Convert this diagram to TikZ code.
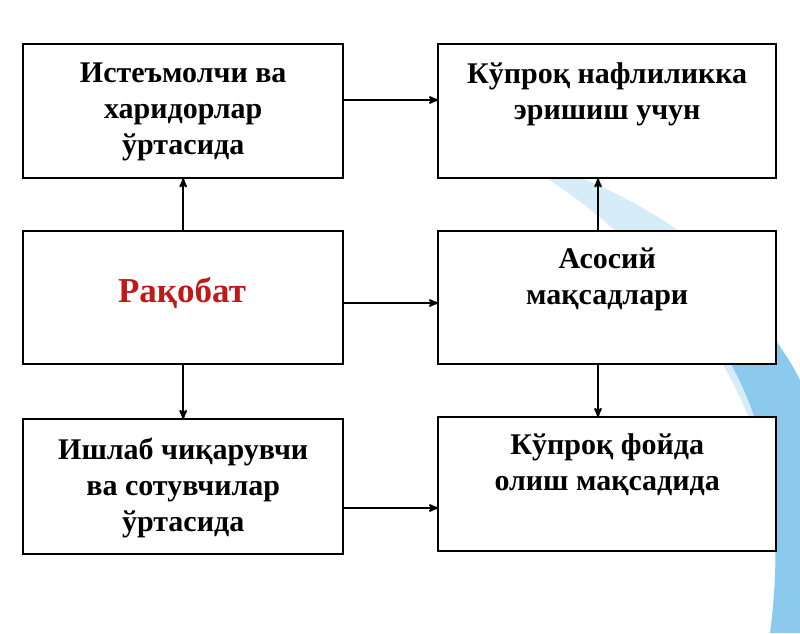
\documentclass[tikz,border=0pt]{standalone}
\usepackage{fontspec}
\setmainfont{Liberation Serif}
\usepackage{xcolor}
\definecolor{darkred}{rgb}{0.75,0.1,0.1}
\definecolor{swoosh}{rgb}{0.35,0.7,0.9}
\usetikzlibrary{positioning, arrows}
\begin{document}
\begin{tikzpicture}
[x=1pt, y=-1pt,
 >=stealth',
 box/.style={draw, line width=2.4pt, fill=white, minimum height=134pt, anchor=north west},
 txt/.style={anchor=north, align=center, font=\fontsize{30}{36}\selectfont\bfseries},
 link/.style={->, line width=2pt, shorten >=-1pt},
]
\useasboundingbox (0,0) rectangle (800,633);

% background
\fill[swoosh!25] (500,150) .. controls (680,200) and (790,300) .. (800,420) -- (800,600) .. controls (770,420) and (700,260) .. (500,150);
\fill[swoosh!70] (600,230) .. controls (760,330) and (790,480) .. (770,633) -- (800,633) -- (800,380) .. controls (760,300) and (680,250) .. (600,230);

\node[box, minimum width=320pt] (buyers) at (22,43) {};
\node[box, minimum width=338pt] (benefit) at (437,43) {};
\node[box, minimum width=320pt, minimum height=133pt] (comp) at (22,230) {};
\node[box, minimum width=338pt, minimum height=133pt] (goals) at (437,230) {};
\node[box, minimum width=320pt, minimum height=135pt] (sellers) at (22,418) {};
\node[box, minimum width=338pt] (profit) at (437,416) {};

\node[txt] (buyerst) at ([yshift=-16pt]buyers.north) {Истеъмолчи ва\\харидорлар\\ўртасида};
\node[txt] (benefitt) at ([yshift=-16pt]benefit.north) {Кўпроқ нафлиликка\\эришиш учун};
\node[txt, anchor=center, text=darkred, font=\fontsize{35}{40}\selectfont\bfseries] (compt) at (182,293) {Рақобат};
\node[txt] (goalst) at ([yshift=-14pt]goals.north) {Асосий\\мақсадлари};
\node[txt] (sellerst) at ([yshift=-16pt]sellers.north) {Ишлаб чиқарувчи\\ва сотувчилар\\ўртасида};
\node[txt] (profitt) at ([yshift=-14pt]profit.north) {Кўпроқ фойда\\олиш мақсадида};

\draw[link] (buyers.east |- 0,100) -- (benefit.west |- 0,100);
\draw[link] (comp.north) -- (buyers.south);
\draw[link] (comp.south) -- (sellers.north);
\draw[link] (comp.east |- 0,303) -- (goals.west |- 0,303);
\draw[link] (goals.north -| 598,0) -- (benefit.south -| 598,0);
\draw[link] (goals.south -| 598,0) -- (profit.north -| 598,0);
\draw[link] (sellers.east |- 0,508) -- (profit.west |- 0,508);
\end{tikzpicture}
\end{document}
